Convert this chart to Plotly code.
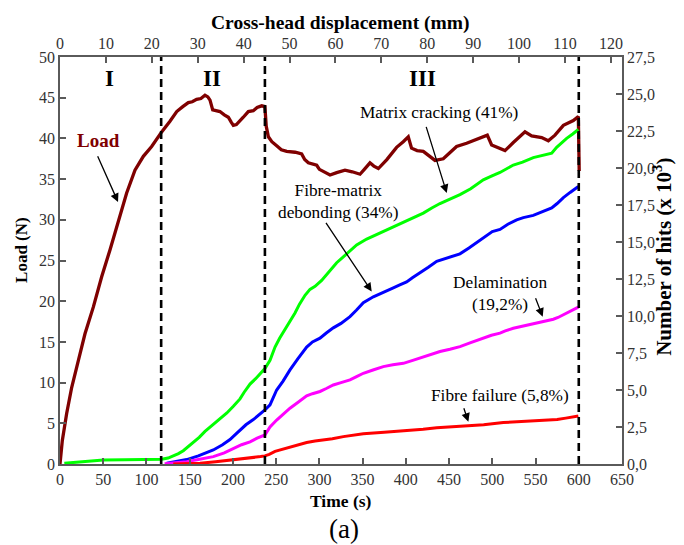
import plotly.graph_objects as go

# ---------------- data ----------------
load_t = [0, 1, 2.7, 7.7, 13.5, 21.2, 28.9, 38.6, 48.2, 57.8, 67.5, 77.1, 86.7, 96.4, 106, 117.6, 127.2,
          135, 142, 148.4, 153, 158, 163, 167.7, 171, 173.5, 176.6, 181, 185, 190, 194.7, 198, 200.5, 204,
          208, 212, 217.8, 223.6, 228, 233.3, 237, 238.5, 241, 245, 250.6, 256, 262.2, 272, 279.5, 283,
          287.2, 292, 296.9, 300, 304.6, 312.3, 320, 329.6, 338, 347, 352, 358.5, 363, 368.2, 378, 389.3,
          397, 402.8, 406.6, 413, 420.2, 427, 433.7, 443.3, 450, 458.7, 470.3, 481.9, 488, 494.2, 499.2,
          507, 514.7, 524.3, 531, 537.8, 545.5, 557.1, 564.8, 572.5, 582.2, 593.7, 599.5, 600.5]
load_N = [0, 1.6, 2.9, 6.2, 9.4, 12.7, 16.0, 19.3, 23.0, 26.3, 30.0, 33.3, 36.1, 37.8, 39.0, 40.8, 42.1,
          43.3, 43.9, 44.4, 44.5, 44.8, 44.9, 45.3, 45.1, 44.7, 43.5, 43.4, 43.3, 42.9, 42.6, 42.0, 41.6, 41.7,
          42.1, 42.6, 43.3, 43.4, 43.8, 44.0, 43.9, 41.5, 40.2, 39.6, 39.1, 38.6, 38.4, 38.3, 38.1, 37.4,
          37.0, 36.9, 36.7, 36.2, 35.9, 35.5, 35.8, 36.1, 35.9, 35.6, 36.2, 37.0, 36.6, 36.3, 37.4, 38.9,
          39.6, 40.2, 38.8, 38.5, 38.4, 37.9, 37.3, 37.5, 38.2, 39.0, 39.4, 39.9, 40.2, 40.4, 39.2,
          38.9, 38.5, 39.5, 40.2, 40.8, 40.3, 40.1, 39.7, 40.4, 41.6, 42.2, 42.7, 36.0]

mc_t = [5, 15, 27, 50, 75, 100, 117.6, 125, 131, 137, 142.6, 148, 154.2, 161, 167.7, 176, 185, 193, 200.5,
        208.2, 213, 219.8, 226, 232, 237, 242.9, 248.7, 254, 260.2, 266, 271.8, 277, 283.4, 289.1, 295,
        302.6, 312.3, 320, 327.7, 335, 343.1, 354.7, 366, 377.8, 389, 397.1, 408, 420.2, 430, 439.5, 451,
        462.6, 475, 489.6, 499, 508.9, 524.3, 535, 547.4, 558, 568.7, 574.4, 580, 586, 593, 599.5]
mc_hits = [0.05, 0.1, 0.16, 0.27, 0.28, 0.28, 0.32, 0.4, 0.54, 0.7, 0.9, 1.15, 1.45, 1.8, 2.2, 2.6, 3.0, 3.45, 3.9,
           4.4, 4.85, 5.4, 5.75, 6.1, 6.45, 7.0, 7.9, 8.5, 9.1, 9.6, 10.2, 10.8, 11.4, 11.8, 12.0,
           12.4, 13.1, 13.6, 14.0, 14.4, 14.8, 15.2, 15.5, 15.8, 16.1, 16.3, 16.6, 16.95, 17.3, 17.6, 17.9,
           18.2, 18.6, 19.2, 19.45, 19.7, 20.2, 20.4, 20.7, 20.85, 21.0, 21.4, 21.7, 22.0, 22.3, 22.6]

fm_t = [123.4, 135, 146.5, 160, 177.3, 188, 196.6, 203, 208.2, 215, 223.6, 230, 237, 242.9, 250.6, 258, 266,
        275, 285.3, 292, 300.7, 308, 316.1, 325, 335.4, 343, 350.8, 362.4, 373, 385.5, 393, 400.9, 408,
        416.4, 426, 435.7, 443.3, 452, 462.6, 473, 483, 493.5, 500, 508.9, 518, 528.2, 535.9, 547.4, 558,
        568.7, 575, 582.2, 590, 599.5]
fm_hits = [0.05, 0.15, 0.3, 0.55, 0.95, 1.3, 1.65, 2.0, 2.3, 2.65, 3.0, 3.3, 3.65, 4.0, 5.0, 5.6, 6.36,
           7.1, 7.9, 8.25, 8.5, 8.85, 9.2, 9.5, 9.96, 10.4, 10.9, 11.3, 11.6, 11.9, 12.1, 12.3, 12.6,
           12.9, 13.3, 13.7, 13.85, 14.0, 14.2, 14.6, 15.0, 15.4, 15.7, 15.85, 16.2, 16.5, 16.65, 16.8, 17.05,
           17.3, 17.6, 18.0, 18.35, 18.75]

de_t = [121, 135, 146.5, 160, 177.3, 190, 200.5, 210, 219.8, 228, 237, 242.9, 250.6, 258, 266, 275, 285.3,
        292, 300.7, 308, 316.1, 325, 335.4, 343, 350.8, 362, 373.9, 385, 397.1, 408, 420.2, 430, 439.5,
        451, 462.6, 475, 489.6, 499, 508.9, 515, 524.3, 535, 547.4, 558, 570.6, 576, 582.2, 590, 599.5]
de_hits = [0.02, 0.08, 0.16, 0.3, 0.5, 0.75, 1.06, 1.3, 1.5, 1.75, 1.96, 2.5, 2.97, 3.35, 3.77, 4.15, 4.6,
           4.75, 4.9, 5.1, 5.34, 5.5, 5.68, 5.9, 6.13, 6.35, 6.58, 6.7, 6.8, 7.0, 7.25, 7.45, 7.6,
           7.75, 7.93, 8.2, 8.5, 8.7, 8.84, 9.0, 9.17, 9.3, 9.47, 9.6, 9.78, 9.9, 10.07, 10.3, 10.6]

ff_t = [131, 145, 162, 180, 200.5, 212, 223.6, 232, 237, 242, 248.7, 255, 266, 275, 285.3, 295, 304.6, 315,
        327.7, 340, 350.8, 375, 400.9, 420, 435.7, 450, 470, 490, 512.7, 540, 566.7, 575, 585, 599.5]
ff_hits = [0.0, 0.02, 0.05, 0.15, 0.27, 0.38, 0.45, 0.5, 0.55, 0.65, 0.85, 0.95, 1.17, 1.3, 1.45, 1.55, 1.6, 1.7,
           1.85, 1.95, 2.05, 2.15, 2.25, 2.35, 2.45, 2.5, 2.55, 2.65, 2.8, 2.9, 2.97, 3.0, 3.1, 3.25]

phase_bounds = [117, 237, 600]          # time (s) of dashed stage separators
phase_labels = ["I", "II", "III"]
phase_label_t = [57.8, 175.8, 418.7]

# ---------------- figure ----------------
FONT = "Liberation Serif"
AXC = "#5a5a5a"
TICKC = "#333333"

fig = go.Figure()
fig.add_trace(go.Scatter(x=load_t, y=load_N, mode="lines", line=dict(color="#7f0000", width=3.3),
                         name="Load", xaxis="x", yaxis="y"))
fig.add_trace(go.Scatter(x=mc_t, y=mc_hits, mode="lines", line=dict(color="#00ff00", width=3),
                         name="Matrix cracking", yaxis="y2"))
fig.add_trace(go.Scatter(x=fm_t, y=fm_hits, mode="lines", line=dict(color="#0000ff", width=3),
                         name="Fibre-matrix debonding", yaxis="y2"))
fig.add_trace(go.Scatter(x=de_t, y=de_hits, mode="lines", line=dict(color="#ff00ff", width=3),
                         name="Delamination", yaxis="y2"))
fig.add_trace(go.Scatter(x=ff_t, y=ff_hits, mode="lines", line=dict(color="#ff0000", width=3),
                         name="Fibre failure", yaxis="y2"))
# invisible trace to bind the top (displacement) axis
fig.add_trace(go.Scatter(x=[0, 120], y=[None, None], mode="lines", xaxis="x2", yaxis="y",
                         showlegend=False, hoverinfo="skip"))

for t in phase_bounds:
    fig.add_shape(type="line", xref="x", yref="paper", x0=t, x1=t, y0=0, y1=1,
                  line=dict(color="black", width=2.6, dash="8px,5px"))

ann = []
for lab, t in zip(phase_labels, phase_label_t):
    ann.append(dict(x=t, y=47.3, xref="x", yref="y", text=f"<b>{lab}</b>", showarrow=False,
                    font=dict(family=FONT, size=23, color="black")))

LF = dict(family=FONT, size=17.3, color="black")
ann.append(dict(x=44, y=39.8, xref="x", yref="y", text="<b>Load</b>", showarrow=False,
                font=dict(family=FONT, size=19, color="#7f0000")))
ann.append(dict(x=438.4, y=43.2, xref="x", yref="y", text="Matrix cracking (41%)", showarrow=False, font=LF))
ann.append(dict(x=321.5, y=32.2, xref="x", yref="y", text="Fibre-matrix<br>debonding (34%)", showarrow=False,
                font=LF))
ann.append(dict(x=509, y=20.95, xref="x", yref="y", text="Delamination<br>(19,2%)", showarrow=False, font=LF))
ann.append(dict(x=509, y=8.4, xref="x", yref="y", text="Fibre failure (5,8%)", showarrow=False, font=LF))

arrows = [  # (head_t, head_N, tail_t, tail_N)
    (67.1, 32.2, 42.8, 38.0),
    (447.3, 33.3, 423.0, 41.6),
    (360.5, 21.2, 306.5, 29.8),
    (558.3, 18.1, 549.4, 20.55),
    (472.3, 5.2, 466.5, 7.04),
]
for hx, hy, tx, ty in arrows:
    ann.append(dict(x=hx, y=hy, ax=tx, ay=ty, xref="x", yref="y", axref="x", ayref="y", text="",
                    showarrow=True, arrowhead=2, arrowsize=1.3, arrowwidth=1.3, arrowcolor="black"))

# axis titles
ann.append(dict(x=0.5, y=-0.0905, xref="paper", yref="paper", text="<b>Time (s)</b>", showarrow=False,
                font=dict(family=FONT, size=17.5, color="black"), yanchor="middle"))
ann.append(dict(x=0.499, y=1.0835, xref="paper", yref="paper", text="<b>Cross-head displacement (mm)</b>",
                showarrow=False, font=dict(family=FONT, size=19.5, color="black"), yanchor="middle"))
ann.append(dict(x=-0.0676, y=0.526, xref="paper", yref="paper", text="<b>Load (N)</b>", showarrow=False,
                font=dict(family=FONT, size=17, color="black"), textangle=-90, xanchor="center", yanchor="middle"))
ann.append(dict(x=1.073, y=0.509, xref="paper", yref="paper", text="<b>Number of hits (x 10<sup>3</sup>)</b>",
                showarrow=False, font=dict(family=FONT, size=21, color="black"), textangle=-90,
                xanchor="center", yanchor="middle"))
ann.append(dict(x=0.505, y=-0.160, xref="paper", yref="paper", text="(a)", showarrow=False,
                font=dict(family=FONT, size=27, color="black"), yanchor="middle"))

axis_common = dict(showgrid=False, zeroline=False, showline=True, linecolor=AXC, linewidth=1.5,
                   ticks="inside", ticklen=6, tickcolor=AXC, tickwidth=1.5, automargin=False,
                   tickfont=dict(family=FONT, size=16, color=TICKC))

# the page body has an 8px default margin, so the figure is sized to fit the window
fig.update_layout(
    width=676, height=537,
    margin=dict(l=52, r=62, t=49, b=81),
    paper_bgcolor="white", plot_bgcolor="white",
    showlegend=False,
    separators=", ",
    font=dict(family=FONT),
    xaxis=dict(range=[0, 650], dtick=50, tick0=0, **axis_common),
    xaxis2=dict(range=[0, 650 * 113 / 600], dtick=10, tick0=0, overlaying="x", side="top", anchor="y",
                **axis_common),
    yaxis=dict(range=[0, 50], dtick=5, tick0=0, **axis_common),
    yaxis2=dict(range=[0, 27.5], dtick=2.5, tick0=0, overlaying="y", side="right", anchor="x",
                tickformat=".1f", **axis_common),
    annotations=ann,
)

fig.write_html("out.html")
